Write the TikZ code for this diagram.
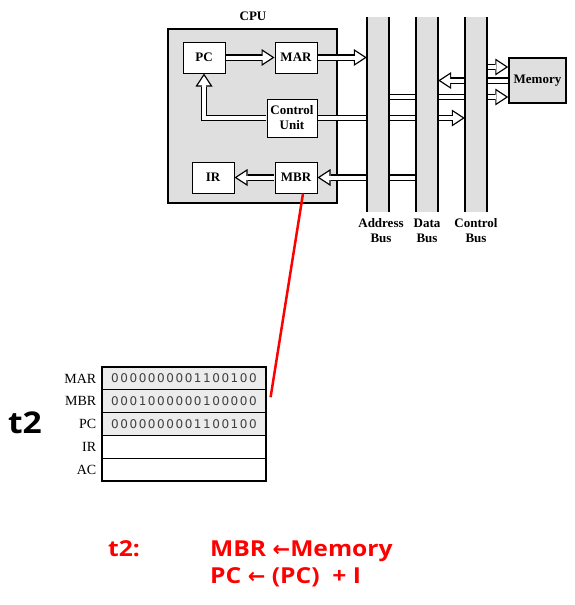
\documentclass[tikz,border=0pt]{standalone}
\usepackage{fontspec}
\setmainfont{Liberation Serif}
\newfontfamily\valfont[LetterSpace=13]{DejaVu Sans}
\newfontfamily\yafont[FakeStretch=1.12]{Open Sans}
\newfontfamily\arrowfont{DejaVu Sans}
\usetikzlibrary{arrows.meta}

\begin{document}
\begin{tikzpicture}[x=1pt, y=-1pt,
  reg/.style={draw, fill=white, line width=1pt, minimum width=42pt, minimum height=31pt, inner sep=0pt, font=\fontsize{13}{15}\selectfont\bfseries},
  bus/.style={minimum width=22pt, minimum height=195pt, inner sep=0pt},
  hollow/.style={draw=black, line width=6.5pt, shorten <=0.7pt, -{Triangle[length=13pt,width=17pt,line width=0pt]},
    postaction={draw=white, line width=4pt, shorten >=2.4pt, -{Triangle[length=9.4pt,width=12.3pt,line width=0pt]}}},
  row/.style={draw, line width=1.2pt, minimum width=164pt, minimum height=22.8pt, inner sep=0pt, font=\valfont\fontsize{12}{12}\selectfont\color{darkgray}},
  lab/.style={anchor=east, inner sep=0pt, font=\fontsize{14}{14}\selectfont},
  redtxt/.style={anchor=base west, inner sep=0pt, red, font=\yafont\fontsize{22}{22}\selectfont\bfseries}]

\useasboundingbox (0,0) rectangle (575,605);

% --- CPU ---
\node[draw, line width=2pt, fill=gray!25, minimum width=169pt, minimum height=174pt] (cpu) at (252.5,116) {};
\node[font=\fontsize{13}{15}\selectfont\bfseries] (cpulab) at (253,16) {CPU};

\node[reg] (pc) at (204,57.5) {PC};
\node[reg] (mar) at (296,57.5) {MAR};
\node[reg, minimum width=50pt, minimum height=38pt, align=center] (cu) at (292,118) {Control\\Unit};
\node[reg] (ir) at (213,177.5) {IR};
\node[reg] (mbr) at (296,177.5) {MBR};

% --- Bus et memoire ---
\node[bus] (ab) at (378,114.5) {};
\node[bus] (db) at (427,114.5) {};
\node[bus] (cb) at (476,114.5) {};
\node[draw, line width=1.5pt, fill=gray!25, minimum width=57pt, minimum height=45pt, inner sep=0pt, font=\fontsize{13}{15}\selectfont\bfseries] (mem) at (537.5,80.5) {Memory};
\coordinate (m1) at ([yshift=13.5pt]mem.west);
\coordinate (m2) at ([yshift=-16.5pt]mem.west);

% --- Liaisons ---
\draw[hollow] (pc) -- (mar);
\draw[hollow] (mar) -- (mar -| ab.west);
\draw[hollow] (cu.west) -| (pc.south);
\draw[hollow] (cu) -- (cu -| cb.west);
\draw[hollow] (mbr -| db.west) -- (mbr);
\draw[hollow] (mbr) -- (ir);
\draw[hollow] (mem) -- (mem -| db.east);
\draw[hollow] (m1 -| cb.east) -- (m1);
\draw[hollow] (m2 -| ab.east) -- (m2);

\foreach \b in {ab,db,cb} {
  \fill[gray!25] (\b.north west) rectangle (\b.south east);
  \draw[line width=1.8pt] (\b.north west) -- (\b.south west) (\b.north east) -- (\b.south east);
}
\node[anchor=north, align=center, font=\fontsize{13}{15}\selectfont\bfseries] (ablab) at ([xshift=3pt,yshift=-3pt]ab.south) {Address\\Bus};
\node[anchor=north, align=center, font=\fontsize{13}{15}\selectfont\bfseries] (dblab) at ([yshift=-3pt]db.south) {Data\\Bus};
\node[anchor=north, align=center, font=\fontsize{13}{15}\selectfont\bfseries] (cblab) at ([yshift=-3pt]cb.south) {Control\\Bus};

% --- Registres ---
\node[row, fill=gray!15] (tmar) at (184,378.4) {0000000001100100};
\node[row, fill=gray!15] (tmbr) at (184,401.2) {0001000000100000};
\node[row, fill=gray!15] (tpc) at (184,424) {0000000001100100};
\node[row, fill=white] (tir) at (184,446.8) {};
\node[row, fill=white] (tac) at (184,469.6) {};

\node[lab] (lmar) at ([xshift=-5pt]tmar.west) {MAR};
\node[lab] (lmbr) at ([xshift=-5pt]tmbr.west) {MBR};
\node[lab] (lpc) at ([xshift=-5pt]tpc.west) {PC};
\node[lab] (lir) at ([xshift=-5pt]tir.west) {IR};
\node[lab] (lac) at ([xshift=-5pt]tac.west) {AC};

\node[font=\yafont\fontsize{30}{30}\selectfont\bfseries] (t2) at (25,423) {t2};

% --- Lien rouge ---
\coordinate (rs) at ([xshift=7pt]mbr.south);
\coordinate (re) at ([xshift=4pt,yshift=-8pt]tmbr.north east);
\draw[red, line width=2.5pt] (rs) -- (re);

% --- Micro-operations ---
\node[redtxt] (step) at (108,556) {t2:};
\node[redtxt] (op1) at (210,556) {MBR {\arrowfont\fontsize{21}{21}\selectfont ←}Memory};
\node[redtxt] (op2) at (210,583) {PC {\arrowfont\fontsize{21}{21}\selectfont ←} (PC)\ \ + I};

\end{tikzpicture}
\end{document}
